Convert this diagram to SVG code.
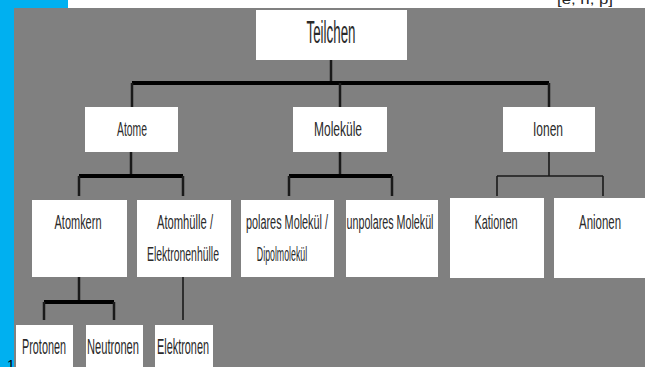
<svg xmlns="http://www.w3.org/2000/svg" width="645" height="367" viewBox="0 0 645 367">
  <style>
    .box { fill: #ffffff; }
    .t { font-family: "Liberation Sans", Arial, sans-serif; fill: #2a2a2a; text-anchor: middle; }
    .thick { stroke: #000000; stroke-width: 4; fill: none; }
    .mid { stroke: #1a1a1a; stroke-width: 2.5; fill: none; }
    .thin { stroke: #1a1a1a; stroke-width: 1.6; fill: none; }
  </style>

  <!-- page background -->
  <rect x="0" y="0" width="645" height="367" fill="#ffffff"/>
  <rect x="0" y="8" width="645" height="359" fill="#808080"/>
  <rect x="0" y="0" width="68" height="8" fill="#00b0f0"/>
  <rect x="0" y="0" width="14" height="367" fill="#00b0f0"/>
  <text x="585" y="4" font-family="Liberation Sans, Arial, sans-serif" font-size="13" fill="#222" text-anchor="middle" textLength="56" lengthAdjust="spacingAndGlyphs">[e, n, p]</text>
  <text x="11" y="370" font-family="Liberation Sans, Arial, sans-serif" font-size="14" fill="#000" text-anchor="middle">1</text>

  <!-- connectors -->
  <g id="connectors">
    <path class="mid" d="M331,60 V83"/>
    <path class="thick" d="M132,83 H549"/>
    <path class="mid" d="M132,83 V107 M340,83 V107 M549,83 V107"/>

    <path class="mid" d="M131,152 V176"/>
    <path class="thick" d="M79,176 H183"/>
    <path class="mid" d="M79,176 V196 M183,176 V196"/>

    <path class="mid" d="M340,152 V176"/>
    <path class="thick" d="M289,176 H392"/>
    <path class="mid" d="M289,176 V196 M392,176 V196"/>

    <path class="thin" d="M549,152 V176 M497,176 H603 M497,176 V196 M603,176 V196"/>

    <path class="mid" d="M79,277 V302"/>
    <path class="thick" d="M44,302 H114"/>
    <path class="mid" d="M44,302 V320 M114,302 V320"/>

    <path class="thin" d="M183,277 V320"/>
  </g>

  <g id="teilchen">
    <rect class="box" x="256" y="10" width="151" height="50"/>
    <text class="t" x="331" y="43" font-size="31" textLength="49" lengthAdjust="spacingAndGlyphs">Teilchen</text>
  </g>

  <g id="atome">
    <rect class="box" x="85" y="107" width="93" height="45"/>
    <text class="t" x="132" y="136" font-size="20" textLength="30" lengthAdjust="spacingAndGlyphs">Atome</text>
  </g>
  <g id="molekuele">
    <rect class="box" x="293" y="107" width="94" height="45"/>
    <text class="t" x="338" y="136" font-size="20" textLength="48" lengthAdjust="spacingAndGlyphs">Moleküle</text>
  </g>
  <g id="ionen">
    <rect class="box" x="503" y="107" width="92" height="45"/>
    <text class="t" x="548" y="136" font-size="20" textLength="30" lengthAdjust="spacingAndGlyphs">Ionen</text>
  </g>

  <g id="atomkern">
    <rect class="box" x="32" y="200" width="95" height="77"/>
    <text class="t" x="78" y="229" font-size="20" textLength="47" lengthAdjust="spacingAndGlyphs">Atomkern</text>
  </g>
  <g id="atomhuelle">
    <rect class="box" x="137" y="200" width="94" height="77"/>
    <text class="t" x="185" y="229" font-size="20" textLength="56" lengthAdjust="spacingAndGlyphs">Atomhülle /</text>
    <text class="t" x="183" y="261" font-size="20" textLength="72" lengthAdjust="spacingAndGlyphs">Elektronenhülle</text>
  </g>
  <g id="polares">
    <rect class="box" x="241" y="200" width="93" height="77"/>
    <text class="t" x="287" y="229" font-size="20" textLength="82" lengthAdjust="spacingAndGlyphs">polares Molekül /</text>
    <text class="t" transform="translate(282,261) scale(0.44,1)" x="0" y="0" font-size="20">Dipolmolekül</text>
  </g>
  <g id="unpolares">
    <rect class="box" x="346" y="200" width="92" height="77"/>
    <text class="t" x="390" y="229" font-size="20" textLength="87" lengthAdjust="spacingAndGlyphs">unpolares Molekül</text>
  </g>
  <g id="kationen">
    <rect class="box" x="450" y="198" width="94" height="80"/>
    <text class="t" x="496" y="229" font-size="21" textLength="43" lengthAdjust="spacingAndGlyphs">Kationen</text>
  </g>
  <g id="anionen">
    <rect class="box" x="554" y="198" width="91" height="80"/>
    <text class="t" x="600" y="229" font-size="21" textLength="42" lengthAdjust="spacingAndGlyphs">Anionen</text>
  </g>

  <g id="protonen">
    <rect class="box" x="16" y="325" width="57" height="42"/>
    <text class="t" x="44" y="354" font-size="22" textLength="44" lengthAdjust="spacingAndGlyphs">Protonen</text>
  </g>
  <g id="neutronen">
    <rect class="box" x="86" y="325" width="57" height="42"/>
    <text class="t" x="113" y="354" font-size="22" textLength="52" lengthAdjust="spacingAndGlyphs">Neutronen</text>
  </g>
  <g id="elektronen">
    <rect class="box" x="155" y="325" width="58" height="42"/>
    <text class="t" x="183" y="354" font-size="22" textLength="52" lengthAdjust="spacingAndGlyphs">Elektronen</text>
  </g>
</svg>
